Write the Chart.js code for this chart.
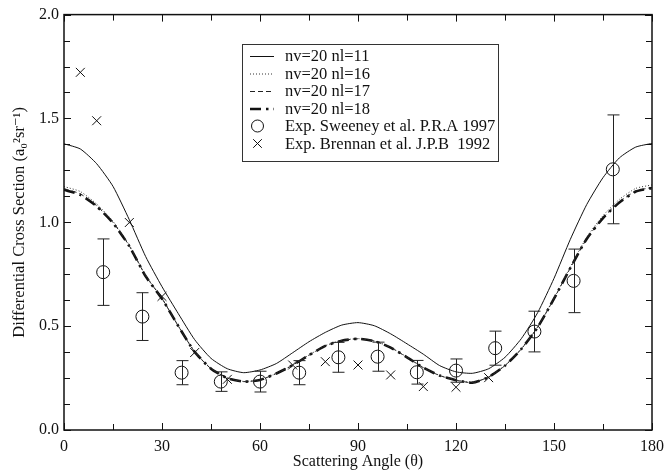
<!DOCTYPE html>
<html>
<head>
<meta charset="utf-8">
<script src="https://cdn.jsdelivr.net/npm/chart.js@4.4.1/dist/chart.umd.min.js"></script>
<style>
html,body{margin:0;padding:0;background:#fff;}
#wrap{width:671px;height:471px;position:relative;}
</style>
</head>
<body>
<div id="wrap"><canvas id="c" width="671" height="471"></canvas></div>
<script>
// ---- data ----
const angles = [0,5,10,15,20,25,30,35,40,45,50,55,60,65,70,75,80,85,90,95,100,105,110,115,120,125,130,135,140,145,150,155,160,165,170,175,180];
const nl11 = [1.378,1.353,1.282,1.173,1.012,0.835,0.69,0.56,0.435,0.345,0.295,0.276,0.289,0.32,0.372,0.425,0.47,0.505,0.517,0.502,0.463,0.415,0.365,0.31,0.28,0.273,0.295,0.35,0.44,0.565,0.73,0.918,1.085,1.215,1.31,1.362,1.38];
const nl16 = [1.172,1.148,1.088,1.005,0.89,0.745,0.635,0.502,0.378,0.297,0.251,0.234,0.242,0.273,0.313,0.361,0.406,0.431,0.44,0.429,0.398,0.351,0.301,0.263,0.241,0.229,0.256,0.311,0.392,0.497,0.635,0.785,0.928,1.032,1.11,1.163,1.18];
const nl17 = [1.162,1.137,1.08,0.999,0.886,0.742,0.633,0.5,0.376,0.295,0.25,0.233,0.241,0.272,0.312,0.36,0.405,0.43,0.439,0.428,0.397,0.35,0.3,0.262,0.24,0.228,0.255,0.31,0.39,0.495,0.632,0.78,0.92,1.022,1.098,1.15,1.168];
const nl18 = [1.157,1.132,1.077,0.997,0.885,0.74,0.632,0.5,0.376,0.295,0.25,0.233,0.241,0.272,0.312,0.36,0.405,0.43,0.439,0.428,0.397,0.35,0.3,0.262,0.24,0.228,0.255,0.31,0.39,0.495,0.632,0.78,0.92,1.02,1.095,1.148,1.165];
const sweeneyAngles = [12,24,36,48,60,72,84,96,108,120,132,144,156,168];
const sweeneyValues = [0.76,0.546,0.276,0.233,0.233,0.276,0.35,0.353,0.278,0.286,0.394,0.474,0.718,1.255];
const sweeneyErrors = [0.16,0.115,0.058,0.047,0.05,0.058,0.072,0.07,0.057,0.056,0.082,0.098,0.153,0.262];
const brennanAngles = [5,10,20,30,40,50,70,80,90,100,110,120,130];
const brennanValues = [1.722,1.489,0.999,0.643,0.373,0.244,0.313,0.329,0.313,0.265,0.209,0.206,0.252];
const xTicks = [0,30,60,90,120,150,180];
const yTicks = [0.0,0.5,1.0,1.5,2.0];
const legendLabels = ['nv=20 nl=11','nv=20 nl=16','nv=20 nl=17','nv=20 nl=18','Exp. Sweeney et al. P.R.A 1997','Exp. Brennan et al. J.P.B  1992'];

const pts = (xs, ys) => xs.map((x,i)=>({x:x, y:ys[i]}));
const FONT = "'Liberation Serif', 'DejaVu Serif', serif";

const datasets = [
  {label:legendLabels[0], data:pts(angles,nl11), showLine:true, borderColor:'#111', borderWidth:1, pointRadius:0, tension:0.2, fill:false},
  {label:legendLabels[1], data:pts(angles,nl16), showLine:true, borderColor:'#333', borderWidth:1, borderDash:[1,2], pointRadius:0, tension:0.2, fill:false},
  {label:legendLabels[2], data:pts(angles,nl17), showLine:true, borderColor:'#222', borderWidth:1, borderDash:[5,3], pointRadius:0, tension:0.2, fill:false},
  {label:legendLabels[3], data:pts(angles,nl18), showLine:true, borderColor:'#111', borderWidth:2.6, borderDash:[11,5,2.5,5], pointRadius:0, tension:0.2, fill:false},
  {label:legendLabels[4], data:pts(sweeneyAngles,sweeneyValues), showLine:false, pointStyle:'circle', pointRadius:6.5, pointBorderColor:'#111', pointBackgroundColor:'rgba(0,0,0,0)', pointBorderWidth:1, errors:sweeneyErrors},
  {label:legendLabels[5], data:pts(brennanAngles,brennanValues), showLine:false, pointStyle:'crossRot', pointRadius:6.3, pointBorderColor:'#111', pointBorderWidth:1}
];

const framePlugin = {
  id:'frame',
  afterDatasetsDraw(chart){
    const ctx = chart.ctx, a = chart.chartArea, xs = chart.scales.x, ys = chart.scales.y;
    ctx.save();
    // error bars
    const ds = chart.data.datasets[4];
    ctx.strokeStyle = '#222'; ctx.lineWidth = 1;
    ds.data.forEach((p,i)=>{
      const e = ds.errors[i];
      const px = Math.round(xs.getPixelForValue(p.x))+0.5;
      const y1 = ys.getPixelForValue(p.y+e), y2 = ys.getPixelForValue(p.y-e);
      ctx.beginPath();
      ctx.moveTo(px,y1); ctx.lineTo(px,y2);
      ctx.moveTo(px-6,y1); ctx.lineTo(px+6,y1);
      ctx.moveTo(px-6,y2); ctx.lineTo(px+6,y2);
      ctx.stroke();
    });
    // frame
    ctx.strokeStyle = '#111'; ctx.lineWidth = 1.5;
    ctx.strokeRect(a.left, a.top, a.right-a.left, a.bottom-a.top);
    // inward ticks
    ctx.lineWidth = 1;
    ctx.beginPath();
    for (let v=0; v<=180; v+=15){
      const px = Math.round(xs.getPixelForValue(v))+0.5;
      const L = (v%30===0)?7:6;
      ctx.moveTo(px,a.bottom); ctx.lineTo(px,a.bottom-L);
      ctx.moveTo(px,a.top); ctx.lineTo(px,a.top+L);
    }
    for (let k=0; k<=16; k++){
      const v = k*0.125;
      const py = Math.round(ys.getPixelForValue(v))+0.5;
      const L = (k%4===0)?7:6;
      ctx.moveTo(a.left,py); ctx.lineTo(a.left+L,py);
      ctx.moveTo(a.right,py); ctx.lineTo(a.right-L,py);
    }
    ctx.stroke();
    ctx.restore();
  },
  afterDraw(chart){
    const ctx = chart.ctx;
    ctx.save();
    // legend box
    ctx.fillStyle = '#fff';
    ctx.fillRect(242.5,44.5,256,117);
    ctx.strokeStyle = '#333'; ctx.lineWidth = 1;
    ctx.strokeRect(242.5,44.5,256,117);
    const rows = [56,73.5,91,108.5,126,143.5];
    const x0 = 250, x1 = 274, tx = 285;
    ctx.font = "16.5px " + FONT;
    ctx.textBaseline = 'middle';
    ctx.fillStyle = '#111';
    chart.data.datasets.forEach((d,i)=>{
      const y = rows[i];
      ctx.save();
      if (i < 4){
        ctx.strokeStyle = d.borderColor; ctx.lineWidth = d.borderWidth;
        ctx.setLineDash(d.borderDash || []);
        ctx.beginPath(); ctx.moveTo(x0,y+0.5); ctx.lineTo(x1,y+0.5); ctx.stroke();
      } else if (i === 4){
        ctx.strokeStyle = '#111'; ctx.lineWidth = 1;
        ctx.beginPath(); ctx.arc(257.5,y,6,0,Math.PI*2); ctx.stroke();
      } else {
        ctx.strokeStyle = '#111'; ctx.lineWidth = 1;
        const r = 4.3;
        ctx.beginPath();
        ctx.moveTo(257.5-r,y-r); ctx.lineTo(257.5+r,y+r);
        ctx.moveTo(257.5+r,y-r); ctx.lineTo(257.5-r,y+r);
        ctx.stroke();
      }
      ctx.restore();
      ctx.fillText(d.label, tx, y+1);
    });
    ctx.restore();
  }
};

new Chart(document.getElementById('c'), {
  type:'scatter',
  data:{datasets:datasets},
  options:{
    responsive:false,
    animation:false,
    layout:{padding:{top:14,right:11,left:0,bottom:0}},
    plugins:{legend:{display:false}, tooltip:{enabled:false}},
    scales:{
      x:{
        type:'linear', min:0, max:180,
        afterBuildTicks(s){ s.ticks = xTicks.map(v=>({value:v})); },
        afterFit(s){ s.height = 41; },
        grid:{display:false, drawTicks:false},
        border:{display:false},
        ticks:{color:'#111', padding:7, maxRotation:0, font:{family:FONT, size:16}, callback:v=>String(v)},
        title:{display:true, text:'Scattering Angle (θ)', color:'#111', font:{family:FONT, size:16}, padding:{top:0,bottom:0}}
      },
      y:{
        type:'linear', min:0, max:2,
        afterBuildTicks(s){ s.ticks = yTicks.map(v=>({value:v})); },
        afterFit(s){ s.width = 64; },
        grid:{display:false, drawTicks:false},
        border:{display:false},
        ticks:{color:'#111', padding:5, font:{family:FONT, size:16}, callback:v=>Number(v).toFixed(1)},
        title:{display:true, text:'Differential Cross Section (a₀²sr⁻¹)', color:'#111', font:{family:FONT, size:16.5}, padding:{top:10,bottom:0}}
      }
    }
  },
  plugins:[framePlugin]
});
</script>
</body>
</html>
